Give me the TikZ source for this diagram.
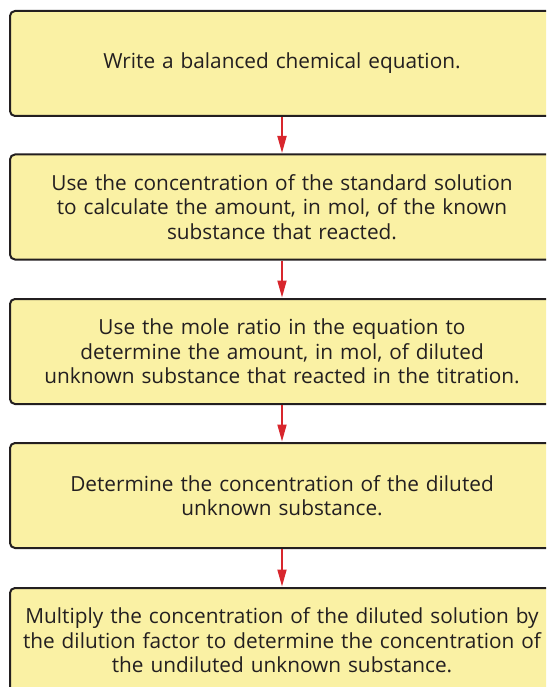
\documentclass[tikz,border=0pt]{standalone}
\usepackage{fontspec}
\setmainfont{Open Sans}
\usepackage{tikz}
\usetikzlibrary{arrows.meta, positioning}

\definecolor{boxfill}{RGB}{250,241,164}
\definecolor{boxline}{RGB}{35,31,32}
\definecolor{steparrow}{RGB}{216,38,45}

\tikzset{
  stepbox/.style={draw=boxline, line width=2pt, fill=boxfill, rounded corners=5pt,
    minimum width=544pt, minimum height=105pt, inner sep=0pt, text width=540pt,
    align=center, text=boxline, font=\fontsize{20.8}{24.5}\selectfont},
  nextstep/.style={draw=steparrow, line width=1.8pt, -{Triangle[length=17pt,width=9pt]}, shorten >=0.5pt}
}

\begin{document}
\begin{tikzpicture}[x=1pt,y=1pt,yscale=-1]
\useasboundingbox (0,0) rectangle (546,687);
\clip (0,0) rectangle (546,687);

% Steps
\node [stepbox] (balance) at (282,63.5) {Write a balanced chemical equation.};
\node [stepbox] (standard) at (282,207) {Use the concentration of the standard solution\\to calculate the amount, in mol, of the known\\substance that reacted.};
\node [stepbox] (ratio) at (282,351.5) {Use the mole ratio in the equation to\\determine the amount, in mol, of diluted\\unknown substance that reacted in the titration.};
\node [stepbox] (diluted) at (282,495.5) {Determine the concentration of the diluted\\unknown substance.};
\node [stepbox] (undiluted) at (282,640.5) {Multiply the concentration of the diluted solution by\\the dilution factor to determine the concentration of\\the undiluted unknown substance.};

% Arrows between the steps
\draw [nextstep] (balance) -- (standard);
\draw [nextstep] (standard) -- (ratio);
\draw [nextstep] (ratio) -- (diluted);
\draw [nextstep] (diluted) -- (undiluted);

\end{tikzpicture}
\end{document}
